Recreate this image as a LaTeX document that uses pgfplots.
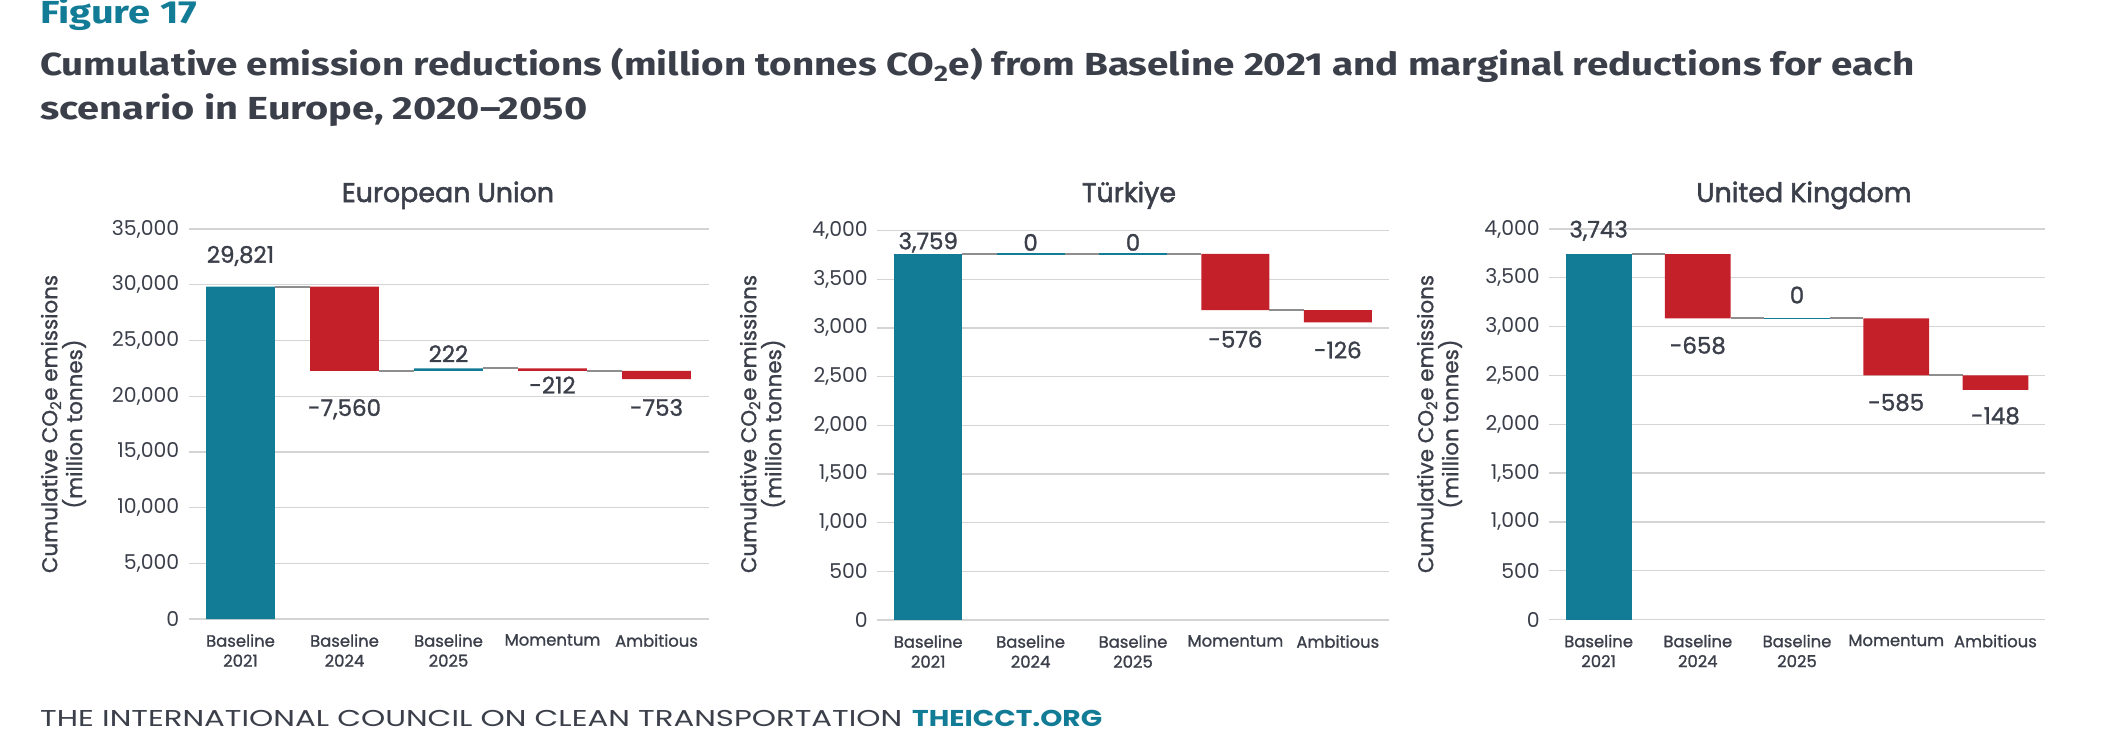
\documentclass[border=0pt]{standalone}
\usepackage{fontspec}
\usepackage{graphicx}
\usepackage{pgfplots}
\pgfplotsset{compat=1.18}
\setmainfont{Poppins}
\newfontfamily\medf{Poppins}[FakeBold=1.2]
\newfontfamily\semf{Poppins}[FakeBold=2]
\newfontfamily\titlefont{Fira Sans}
\definecolor{icteal}{HTML}{127C97}
\definecolor{icred}{HTML}{C42029}
\definecolor{txt}{HTML}{3B3F4A}
\definecolor{gridc}{HTML}{D4D4D4}
\definecolor{conn}{HTML}{8E8E8E}
\newcommand\tickf{\fontsize{20.5}{20.5}\selectfont}
\newcommand\catf{\medf\fontsize{16.5}{20}\selectfont}
\newcommand\lblf{\medf\fontsize{23}{23}\selectfont}
\pgfplotsset{wf/.style={
  scale only axis, anchor=south west, clip=false,
  xmin=-0.5, xmax=4.5, ymin=0,
  xtick={0,1,2,3,4},
  xticklabels={{Baseline\\2021},{Baseline\\2024},{Baseline\\2025},{Momentum},{Ambitious}},
  axis line style={draw=none}, major tick length=0pt,
  ymajorgrids, grid style={gridc, line width=1.3bp},
  ybar stacked, bar width=0.663,
  scaled y ticks=false,
  yticklabel style={font=\tickf, text=txt, inner sep=0pt, xshift=-9bp},
  xticklabel style={font=\catf, text=txt, align=center, inner sep=0pt, yshift=-15bp},
  /pgf/number format/1000 sep={,},
  /pgf/number format/assume math mode=true,
}}
\tikzset{ylab/.style={rotate=90, align=center, inner sep=0, text=txt, font=\medf\fontsize{21.5}{25}\selectfont}}
\begin{document}
\begin{tikzpicture}
\useasboundingbox (0,0) rectangle (2102bp,-754bp);
% titles
\node[anchor=base west, inner sep=0, text=icteal] at (40bp,-24bp) {\resizebox{157bp}{\height}{\titlefont\bfseries\fontsize{32}{32}\selectfont Figure 17}};
\node[anchor=base west, inner sep=0, text=txt] at (40bp,-75bp) {\resizebox{1874bp}{\height}{\titlefont\bfseries\fontsize{32}{32}\selectfont Cumulative emission reductions (million tonnes CO\textsubscript{2}e) from Baseline 2021 and marginal reductions for each}};
\node[anchor=base west, inner sep=0, text=txt] at (40bp,-119.5bp) {\resizebox{547bp}{\height}{\titlefont\bfseries\fontsize{32}{32}\selectfont scenario in Europe, 2020–2050}};
% panel titles
\node[anchor=base, inner sep=0, text=txt] at (448bp,-202bp) {\semf\fontsize{27}{27}\selectfont European Union};
\node[anchor=base, inner sep=0, text=txt] at (1129bp,-202bp) {\semf\fontsize{27}{27}\selectfont Türkiye};
\node[anchor=base, inner sep=0, text=txt] at (1804bp,-202bp) {\semf\fontsize{27}{27}\selectfont United Kingdom};
% y labels
\node[ylab] at (63.5bp,-424bp) {Cumulative CO\textsubscript{2}e emissions\\(million tonnes)};
\node[ylab] at (762.5bp,-424bp) {Cumulative CO\textsubscript{2}e emissions\\(million tonnes)};
\node[ylab] at (1439.5bp,-424bp) {Cumulative CO\textsubscript{2}e emissions\\(million tonnes)};
% footer
\node[anchor=base west, inner sep=0, text=txt] at (40bp,-726bp) {\resizebox{862bp}{\height}{\fontsize{23}{23}\selectfont THE INTERNATIONAL COUNCIL ON CLEAN TRANSPORTATION}};
\node[anchor=base west, inner sep=0, text=icteal] at (912bp,-726bp) {\resizebox{190bp}{\height}{\bfseries\fontsize{23}{23}\selectfont THEICCT.ORG}};

% ---------- European Union
\begin{axis}[wf, at={(188.5bp,-619bp)}, width=520bp, height=390bp, ymax=35000, ytick={0,5000,...,35000}]
\addplot[draw=none, fill=none] coordinates {(0,0) (1,22261) (2,22261) (3,22271) (4,21518)};
\addplot[draw=none, fill=icteal] coordinates {(0,29821) (1,0) (2,222) (3,0) (4,0)};
\addplot[draw=none, fill=icred] coordinates {(0,0) (1,7560) (2,0) (3,212) (4,753)};
\addplot[stack plots=false, sharp plot, mark=none, conn, line width=2bp, unbounded coords=jump] coordinates {
 (0.3315,29821) (0.6685,29821) (1,nan)
 (1.3315,22261) (1.6685,22261) (2,nan)
 (2.3315,22483) (2.6685,22483) (3,nan)
 (3.3315,22271) (3.6685,22271)};
\node[font=\lblf, text=txt] at (axis cs:0,32577) {29,821};
\node[font=\lblf, text=txt] at (axis cs:1,18830) {-7,560};
\node[font=\lblf, text=txt] at (axis cs:2,23809) {222};
\node[font=\lblf, text=txt] at (axis cs:3,21000) {-212};
\node[font=\lblf, text=txt] at (axis cs:4,18985) {-753};
\end{axis}

% ---------- Turkiye
\begin{axis}[wf, at={(877bp,-620bp)}, width=512bp, height=389.5bp, ymax=4000, ytick={0,500,...,4000}]
\addplot[draw=none, fill=none] coordinates {(0,0) (1,3759) (2,3759) (3,3183) (4,3057)};
\addplot[draw=none, fill=icteal] coordinates {(0,3759) (1,0) (2,0) (3,0) (4,0)};
\addplot[draw=none, fill=icred] coordinates {(0,0) (1,0) (2,0) (3,576) (4,126)};
\addplot[stack plots=false, sharp plot, mark=none, conn, line width=2bp, unbounded coords=jump] coordinates {
 (0.3315,3759) (0.6685,3759) (1,nan)
 (1.3315,3759) (1.6685,3759) (2,nan)
 (2.3315,3759) (2.6685,3759) (3,nan)
 (3.3315,3183) (3.6685,3183)};
\addplot[stack plots=false, sharp plot, mark=none, icteal, line width=1.5bp, unbounded coords=jump] coordinates {
 (0.6685,3759) (1.3315,3759) (1.5,nan)
 (1.6685,3759) (2.3315,3759)};
\node[font=\lblf, text=txt] at (axis cs:0,3877) {3,759};
\node[font=\lblf, text=txt] at (axis cs:1,3878) {0};
\node[font=\lblf, text=txt] at (axis cs:2,3878) {0};
\node[font=\lblf, text=txt] at (axis cs:3,2884) {-576};
\node[font=\lblf, text=txt] at (axis cs:4,2773) {-126};
\end{axis}

% ---------- United Kingdom
\begin{axis}[wf, at={(1549bp,-619.5bp)}, width=496bp, height=390.5bp, ymax=4000, ytick={0,500,...,4000}]
\addplot[draw=none, fill=none] coordinates {(0,0) (1,3085) (2,3085) (3,2500) (4,2352)};
\addplot[draw=none, fill=icteal] coordinates {(0,3743) (1,0) (2,0) (3,0) (4,0)};
\addplot[draw=none, fill=icred] coordinates {(0,0) (1,658) (2,0) (3,585) (4,148)};
\addplot[stack plots=false, sharp plot, mark=none, conn, line width=2bp, unbounded coords=jump] coordinates {
 (0.3315,3743) (0.6685,3743) (1,nan)
 (1.3315,3085) (1.6685,3085) (2,nan)
 (2.3315,3085) (2.6685,3085) (3,nan)
 (3.3315,2500) (3.6685,2500)};
\addplot[stack plots=false, sharp plot, mark=none, icteal, line width=1.5bp] coordinates {
 (1.6685,3085) (2.3315,3085)};
\node[font=\lblf, text=txt] at (axis cs:0,3982) {3,743};
\node[font=\lblf, text=txt] at (axis cs:1,2807) {-658};
\node[font=\lblf, text=txt] at (axis cs:2,3324) {0};
\node[font=\lblf, text=txt] at (axis cs:3,2223) {-585};
\node[font=\lblf, text=txt] at (axis cs:4,2087) {-148};
\end{axis}
\end{tikzpicture}
\end{document}
